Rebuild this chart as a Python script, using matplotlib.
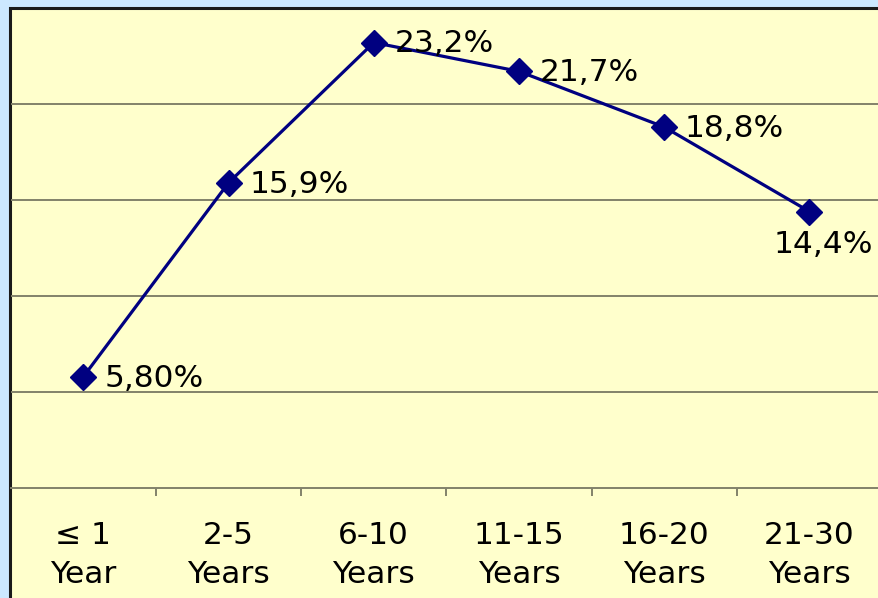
import matplotlib
matplotlib.use("Agg")
import matplotlib.pyplot as plt
from matplotlib.patches import Rectangle
from matplotlib.ticker import FixedLocator, NullFormatter

categories = ["≤ 1\nYear", "2-5\nYears", "6-10\nYears", "11-15\nYears", "16-20\nYears", "21-30\nYears"]
values = [5.8, 15.9, 23.2, 21.7, 18.8, 14.4]
labels = ["5,80%", "15,9%", "23,2%", "21,7%", "18,8%", "14,4%"]

W, H = 879, 598
fig = plt.figure(figsize=(W / 100, H / 100), dpi=100, facecolor="#CCE8FF")

# yellow chart area with dark border
rect = Rectangle((9.5 / W, 0 - 0.05), 1.1, (H - 7.5) / H + 0.05, transform=fig.transFigure,
                 facecolor="#FFFFCC", edgecolor="#1a1a1a", linewidth=2.2, zorder=-10)
fig.patches.append(rect)

left, right = 10.8, 882
bottom, top = 488, 8
ax = fig.add_axes([left / W, (H - bottom) / H, (right - left) / W, (bottom - top) / H])
ax.set_zorder(1)
ax.set_facecolor("none")
x = list(range(len(categories)))
ax.set_xlim(-0.5, len(categories) - 0.5)
ax.set_ylim(0, 25)

grid_c = "#82826a"
for yv in [5, 10, 15, 20]:
    ax.axhline(yv, color=grid_c, lw=1.4, zorder=1)
for s in ["left", "right", "top"]:
    ax.spines[s].set_visible(False)
ax.spines["bottom"].set_color(grid_c)
ax.spines["bottom"].set_linewidth(1.4)
ax.set_yticks([])

ax.set_xticks(x)
ax.set_xticklabels(categories, fontsize=22.5, color="black", linespacing=1.4)
ax.tick_params(axis="x", which="major", length=0, pad=24)
ax.xaxis.set_minor_locator(FixedLocator([i + 0.5 for i in range(len(categories) - 1)]))
ax.xaxis.set_minor_formatter(NullFormatter())
ax.tick_params(axis="x", which="minor", length=6, width=1.4, color=grid_c, direction="out")

ax.plot(x, values, color="#000080", lw=2.3, marker="D", markersize=13, zorder=3, clip_on=False)

for i, (v, lab) in enumerate(zip(values, labels)):
    if i == len(values) - 1:
        ax.annotate(lab, (i, v), xytext=(10, -13), textcoords="offset points",
                    ha="center", va="top", fontsize=22.5, color="black", zorder=4)
    else:
        ax.annotate(lab, (i, v), xytext=(15, -1), textcoords="offset points",
                    ha="left", va="center", fontsize=22.5, color="black", zorder=4)

fig.savefig("out.png", dpi=100, facecolor=fig.get_facecolor())
